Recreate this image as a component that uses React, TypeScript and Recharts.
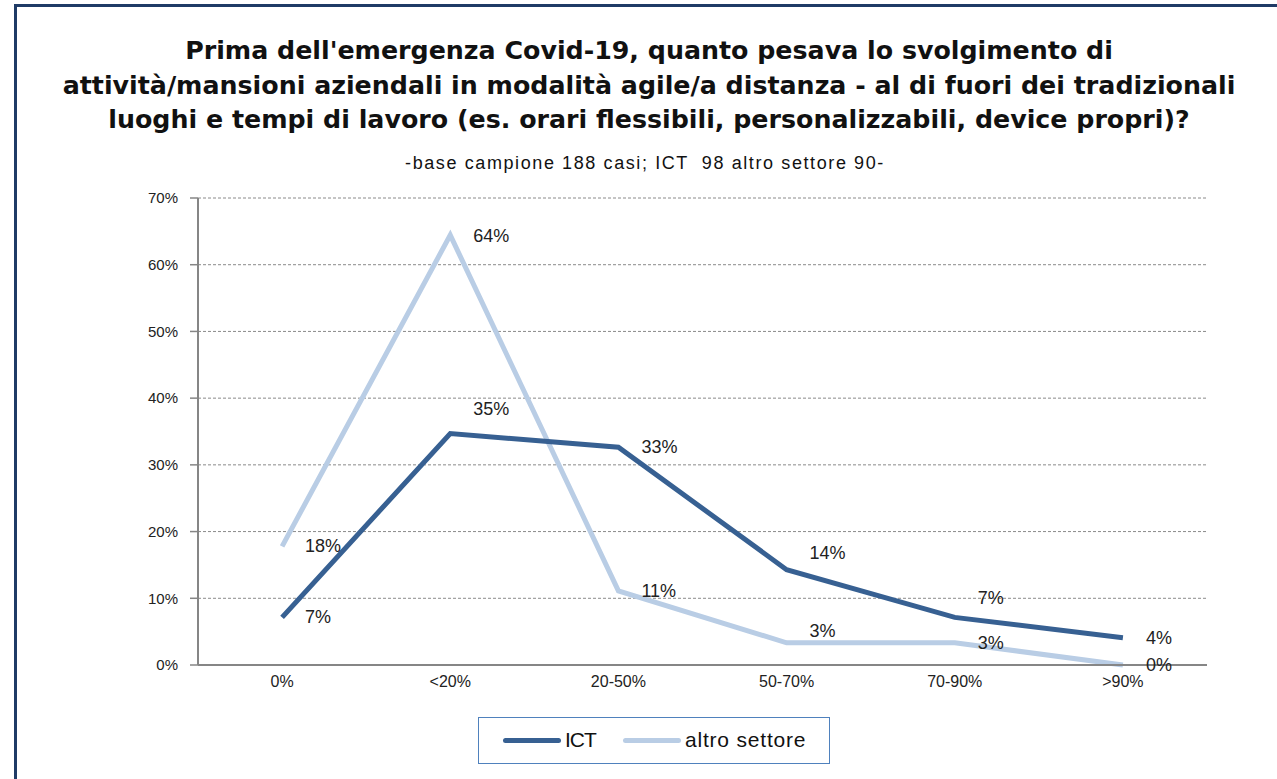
import React from 'react';
import { LineChart, Line, XAxis, YAxis, CartesianGrid } from 'recharts';

const categories = ['0%', '<20%', '20-50%', '50-70%', '70-90%', '>90%'];
const ictValues = [7.14, 34.69, 32.65, 14.29, 7.14, 4.08];
const altroValues = [17.78, 64.44, 11.11, 3.33, 3.33, 0];
const yTicks = [0, 10, 20, 30, 40, 50, 60, 70];

const titleLines = [
  "Prima dell'emergenza Covid-19, quanto pesava lo svolgimento di",
  'attività/mansioni aziendali in modalità agile/a distanza - al di fuori dei tradizionali',
  'luoghi e tempi di lavoro (es. orari flessibili, personalizzabili, device propri)?',
];
const subtitle = '-base campione 188 casi; ICT  98 altro settore 90-';

const series = [
  { key: 'ict', name: 'ICT', color: '#376092' },
  { key: 'altro', name: 'altro settore', color: '#b9cde5' },
];

// small manual nudges, like the hand-placed labels in the original
const labelDy: Record<string, number[]> = {
  ict: [0, -25, 0, -17, -19, 0],
  altro: [0, 1, 0, -12, 0, 0],
};

const chartData = categories.map((c, i) => ({
  x: i + 0.5,
  name: c,
  ict: ictValues[i],
  altro: altroValues[i],
}));

const font = '"Liberation Sans", Arial, sans-serif';

const makeLabel = (key: string) => (props: any) => {
  const { x, y, value, index } = props;
  return (
    <text
      x={x + 23}
      y={y + (labelDy[key][index] || 0)}
      dominantBaseline="central"
      fontSize={18}
      fontFamily={font}
      fill="#222"
    >
      {Math.round(value)}%
    </text>
  );
};

export default function App() {
  return (
    <div
      style={{
        position: 'absolute',
        left: 0,
        top: 0,
        width: 1277,
        height: 779,
        background: '#fff',
        fontFamily: font,
        overflow: 'hidden',
      }}
    >
      <div
        style={{
          position: 'absolute',
          left: 14,
          top: 4,
          right: -10,
          bottom: -10,
          borderTop: '3px solid #1f3b66',
          borderLeft: '3px solid #1f3b66',
        }}
      />
      {titleLines.map((t, i) => (
        <div
          key={i}
          style={{
            position: 'absolute',
            left: 0,
            width: 1298,
            top: 34 + i * 34.5,
            textAlign: 'center',
            fontFamily: '"DejaVu Sans", Verdana, sans-serif',
            fontSize: 25.3,
            fontWeight: 'bold',
            color: '#111',
            whiteSpace: 'pre',
            lineHeight: '34.5px',
          }}
        >
          {t}
        </div>
      ))}
      <div
        style={{
          position: 'absolute',
          left: 0,
          width: 1290,
          top: 153,
          textAlign: 'center',
          fontSize: 18,
          lineHeight: '20px',
          letterSpacing: 1.6,
          color: '#111',
          whiteSpace: 'pre',
        }}
      >
        {subtitle}
      </div>

      <div style={{ position: 'absolute', left: 0, top: 0 }}>
        <LineChart
          width={1277}
          height={779}
          data={chartData}
          margin={{ top: 198, right: 70, bottom: 84, left: 138 }}
        >
          <CartesianGrid vertical={false} stroke="#8a8a8a" strokeDasharray="3 2" />
          <XAxis
            xAxisId="marks"
            type="number"
            dataKey="x"
            domain={[0, 6]}
            ticks={[0, 1, 2, 3, 4, 5, 6]}
            tick={false}
            tickLine={{ stroke: '#868686', strokeWidth: 1.5 }}
            tickSize={8}
            axisLine={false}
            height={0}
          />
          <XAxis
            type="number"
            dataKey="x"
            domain={[0, 6]}
            ticks={chartData.map((d) => d.x)}
            tickFormatter={(v: number) => categories[Math.floor(v)]}
            tickLine={false}
            tickSize={8}
            tickMargin={3}
            axisLine={{ stroke: '#868686', strokeWidth: 2 }}
            tick={{ fontSize: 16, fill: '#222', fontFamily: font }}
            height={30}
          />
          <YAxis
            type="number"
            domain={[0, 70]}
            ticks={yTicks}
            tickFormatter={(v: number) => `${v}%`}
            width={60}
            tickSize={8}
            tickMargin={12}
            axisLine={{ stroke: '#868686', strokeWidth: 2 }}
            tickLine={{ stroke: '#868686', strokeWidth: 1.5 }}
            tick={{ fontSize: 15, fill: '#222', fontFamily: font }}
          />
          {series.map((s) => (
            <Line
              key={s.key}
              type="linear"
              dataKey={s.key}
              name={s.name}
              stroke={s.color}
              strokeWidth={5}
              dot={false}
              activeDot={false}
              isAnimationActive={false}
              label={makeLabel(s.key)}
            />
          )).reverse()}
        </LineChart>
      </div>

      <div
        style={{
          position: 'absolute',
          left: 478,
          top: 717,
          width: 352,
          height: 47,
          border: '1.5px solid #4f81bd',
          boxSizing: 'border-box',
        }}
      >
        {series.map((s, i) => (
          <div
            key={s.key}
            style={{
              position: 'absolute',
              left: i === 0 ? 24 : 144,
              top: 0,
              height: 44,
              display: 'flex',
              alignItems: 'center',
            }}
          >
            <div style={{ width: 58, height: 5, borderRadius: 3, background: s.color, marginRight: 4 }} />
            <span style={{ fontSize: 21, color: '#111', letterSpacing: i === 0 ? -1 : 0.8 }}>{s.name}</span>
          </div>
        ))}
      </div>
    </div>
  );
}
